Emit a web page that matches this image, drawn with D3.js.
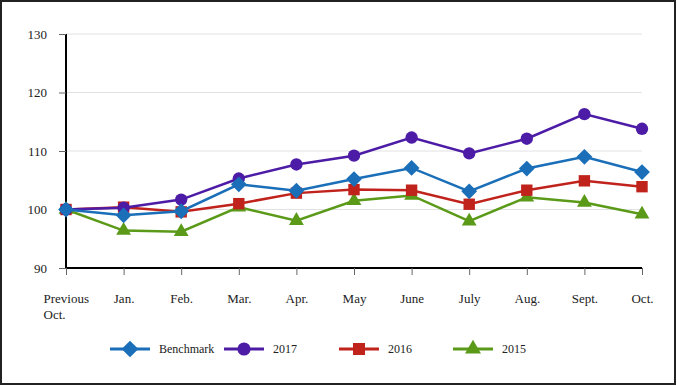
<!DOCTYPE html>
<html>
<head>
<meta charset="utf-8">
<script src="https://cdn.jsdelivr.net/npm/d3@7"></script>
<style>
  body { margin: 0; background: #fff; }
  svg { display: block; }
  text { font-family: "Liberation Serif", "Times New Roman", serif; }
</style>
</head>
<body>
<div id="app"></div>
<script>
// DATA
const months = ['Previous Oct.', 'Jan.', 'Feb.', 'Mar.', 'Apr.', 'May', 'June', 'July', 'Aug.', 'Sept.', 'Oct.'];
const benchmark = [100, 99.0, 99.7, 104.3, 103.2, 105.2, 107.1, 103.1, 107.0, 109.0, 106.4];
const y2017 = [100, 100.3, 101.7, 105.3, 107.7, 109.2, 112.3, 109.6, 112.1, 116.3, 113.8];
const y2016 = [100, 100.4, 99.6, 101.0, 102.8, 103.4, 103.3, 100.9, 103.3, 104.9, 103.9];
const y2015 = [100, 96.4, 96.2, 100.4, 98.1, 101.5, 102.4, 98.0, 102.1, 101.2, 99.2];
const yTicks = [90, 100, 110, 120, 130];

// diamond = square turned 45 deg
const series = [
  { name: 'Benchmark', values: benchmark, color: '#1a6fb8', symbol: d3.symbolSquare, size: 125, rotate: 45 },
  { name: '2017', values: y2017, color: '#4d1ca6', symbol: d3.symbolCircle, size: 120, rotate: 0 },
  { name: '2016', values: y2016, color: '#c0221c', symbol: d3.symbolSquare, size: 130, rotate: 0 },
  { name: '2015', values: y2015, color: '#5a9a18', symbol: d3.symbolTriangle, size: 95, rotate: 0 }
];

const width = 677, height = 386;
const margin = { top: 34, right: 35, bottom: 118, left: 66 };

const svg = d3.select('#app').append('svg')
  .attr('width', width)
  .attr('height', height);

// frame
svg.append('rect')
  .attr('x', 1).attr('y', 1)
  .attr('width', width - 3).attr('height', height - 3)
  .attr('fill', '#fff')
  .attr('stroke', '#222')
  .attr('stroke-width', 2);

const x = d3.scalePoint()
  .domain(months)
  .range([margin.left, width - margin.right]);

const y = d3.scaleLinear()
  .domain([90, 130])
  .range([height - margin.bottom, margin.top]);

// gridlines
svg.append('g')
  .selectAll('line')
  .data(yTicks.slice(1))
  .enter()
  .append('line')
    .attr('x1', margin.left)
    .attr('x2', width - margin.right)
    .attr('y1', d => y(d))
    .attr('y2', d => y(d))
    .attr('stroke', '#e2e2e2')
    .attr('stroke-width', 1);

// y axis
const yAxis = svg.append('g')
  .attr('transform', `translate(${margin.left},0)`)
  .call(d3.axisLeft(y).tickValues(yTicks).tickSize(7).tickPadding(12));
yAxis.attr('font-family', null);
yAxis.select('.domain').attr('stroke', '#000').attr('stroke-width', 2)
  .attr('d', `M0,${y(90)}V${y(130)}`);
yAxis.selectAll('.tick line').attr('stroke', '#666');
yAxis.selectAll('.tick text')
  .attr('font-size', 13)
  .attr('fill', '#222');

// x axis
const xAxis = svg.append('g')
  .attr('transform', `translate(0,${y(90)})`)
  .call(d3.axisBottom(x).tickSize(7).tickPadding(19));
xAxis.attr('font-family', null);
xAxis.select('.domain').attr('stroke', '#000').attr('stroke-width', 2)
  .attr('d', `M${margin.left},0H${width - margin.right}`);
xAxis.selectAll('.tick line').attr('stroke', '#666');
xAxis.selectAll('.tick text')
  .attr('font-size', 13)
  .attr('fill', '#222');

// two-line first label
xAxis.selectAll('.tick text')
  .filter(d => d === 'Previous Oct.')
  .text(null)
  .attr('text-anchor', 'start')
  .attr('x', -23)
  .call(t => {
    t.append('tspan').attr('x', -23).text('Previous');
    t.append('tspan').attr('x', -23).attr('dy', '1.25em').text('Oct.');
  });

// lines, benchmark drawn last so it sits on top
const line = d3.line()
  .x((d, i) => x(months[i]))
  .y(d => y(d));

const drawOrder = series.slice().reverse();

drawOrder.forEach(s => {
  svg.append('path')
    .datum(s.values)
    .attr('fill', 'none')
    .attr('stroke', s.color)
    .attr('stroke-width', 2.5)
    .attr('d', line);

  svg.append('g')
    .selectAll('path')
    .data(s.values)
    .enter()
    .append('path')
      .attr('transform', (d, i) => `translate(${x(months[i])},${y(d)}) rotate(${s.rotate})`)
      .attr('d', d3.symbol().type(s.symbol).size(s.size))
      .attr('fill', s.color);
});

// legend
const legendX = [110, 224, 339, 453];
const legendY = 349;
const legend = svg.append('g')
  .selectAll('g')
  .data(series)
  .enter()
  .append('g')
    .attr('transform', (d, i) => `translate(${legendX[i]},${legendY})`);

legend.append('line')
  .attr('x1', 0).attr('x2', 40)
  .attr('stroke', d => d.color)
  .attr('stroke-width', 3);
legend.append('path')
  .attr('transform', d => `translate(20,0) rotate(${d.rotate})`)
  .attr('d', d => d3.symbol().type(d.symbol).size(d.size + 15)())
  .attr('fill', d => d.color);
legend.append('text')
  .attr('x', 49)
  .attr('dy', '0.35em')
  .attr('font-size', 12)
  .attr('fill', '#222')
  .text(d => d.name);
</script>
</body>
</html>
